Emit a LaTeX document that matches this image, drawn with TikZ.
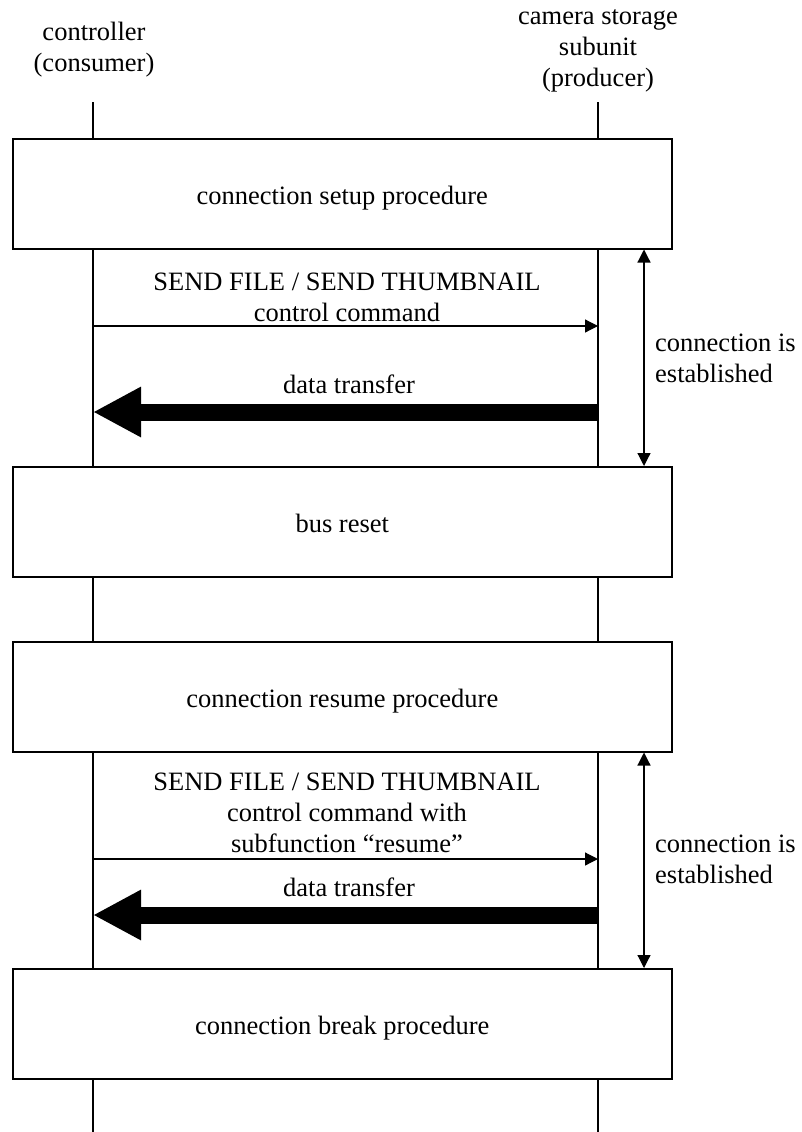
\documentclass[tikz,border=0pt]{standalone}
\usepackage{fontspec}
\setmainfont{Liberation Serif}
\usetikzlibrary{arrows.meta}

\begin{document}
\begin{tikzpicture}[x=1pt,y=-1pt,
  every node/.style={font=\fontsize{26.5}{31}\selectfont, inner sep=0pt},
  procbox/.style={draw, line width=1.5pt, fill=white, minimum width=659pt,
    minimum height=110pt, text height=22pt, text depth=0pt, anchor=north west},
  lifeline/.style={line width=1.2pt},
  msg/.style={line width=1.2pt, -{Triangle[length=13pt,width=13pt]}},
  bulk/.style={line width=17pt, -{Triangle[length=48pt,width=47pt]}},
  spanarrow/.style={line width=1.2pt,
    {Triangle[length=13pt,width=13pt]}-{Triangle[length=13pt,width=13pt]}},
  label/.style={anchor=base, align=center},
]
\useasboundingbox (0,0) rectangle (801,1132);

% participants (anchored at the baseline of their last line)
\node[label] (cons) at (94,71) {controller\\(consumer)};
\node[label] (prod) at (598,86) {camera storage\\subunit\\(producer)};

% lifelines
\coordinate (cT) at (93,102);
\coordinate (cB) at (93,1132);
\coordinate (pT) at (598,102);
\coordinate (pB) at (598,1132);
\draw[lifeline] (cT) -- (cB);
\draw[lifeline] (pT) -- (pB);

% procedure boxes
\node[procbox] (setup)  at (12,138) {connection setup procedure};
\node[procbox] (reset)  at (12,466) {bus reset};
\node[procbox] (resume) at (12,641) {connection resume procedure};
\node[procbox] (brk)    at (12,968) {connection break procedure};

% first transfer
\coordinate (c1) at (93,326);
\coordinate (p1) at (598,326);
\coordinate (c2) at (93,412);
\coordinate (p2) at (598,412);
\node[label] (cmd1) at (347,321) {SEND FILE / SEND THUMBNAIL\\control command};
\draw[msg] (c1) -- (p1);
\node[label] (dt1) at (349,393) {data transfer};
\draw[bulk] (p2) -- (c2);

% second transfer
\coordinate (c3) at (93,859);
\coordinate (p3) at (598,859);
\coordinate (c4) at (93,915);
\coordinate (p4) at (598,915);
\node[label] (cmd2) at (347,852)
  {SEND FILE / SEND THUMBNAIL\\control command with\\subfunction \textquotedblleft resume\textquotedblright};
\draw[msg] (c3) -- (p3);
\node[label] (dt2) at (349,896) {data transfer};
\draw[bulk] (p4) -- (c4);

% connection spans
\coordinate (ex) at (644,0);
\draw[spanarrow] (setup.south -| ex) -- (reset.north -| ex);
\draw[spanarrow] (resume.south -| ex) -- (brk.north -| ex);
\node[anchor=base west, align=left] (est1) at (655,382) {connection is\\established};
\node[anchor=base west, align=left] (est2) at (655,883) {connection is\\established};
\end{tikzpicture}
\end{document}
